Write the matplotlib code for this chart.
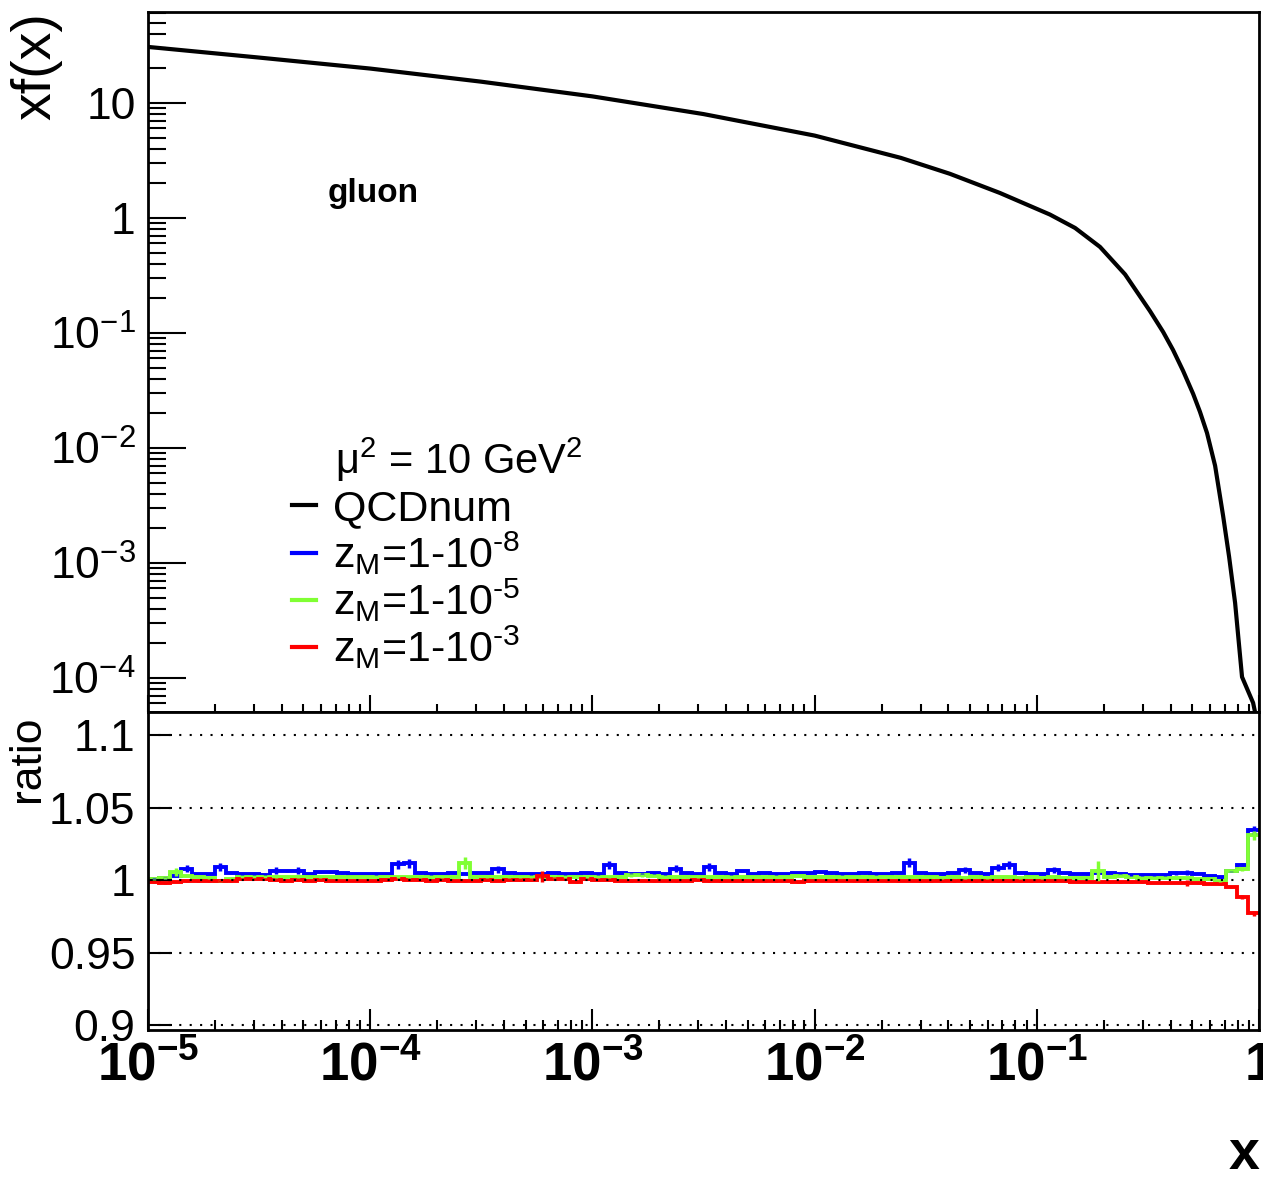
import numpy as np
import matplotlib
matplotlib.use("Agg")
import matplotlib.pyplot as plt
from matplotlib.ticker import LogLocator, FixedLocator, FuncFormatter, NullFormatter

plt.rcParams['font.family'] = ['Liberation Sans', 'DejaVu Sans']
plt.rcParams['mathtext.fontset'] = 'custom'
plt.rcParams['mathtext.rm'] = 'Liberation Sans'
plt.rcParams['mathtext.it'] = 'Liberation Sans:italic'
plt.rcParams['mathtext.bf'] = 'Liberation Sans:bold'

# gluon xf(x) at mu^2 = 10 GeV^2
x_pdf = [1e-5, 3.16e-5, 1e-4, 3.16e-4, 1e-3, 3.16e-3, 1e-2, 0.0244, 0.0406, 0.0682,
         0.1145, 0.1486, 0.1923, 0.2494, 0.3228, 0.370, 0.410, 0.455, 0.505, 0.542,
         0.583, 0.634, 0.689, 0.733, 0.780, 0.838, 0.940, 0.960]
xf_pdf = [30.7, 24.8, 19.9, 15.3, 11.4, 8.0, 5.2, 3.33, 2.42, 1.648,
          1.07, 0.818, 0.560, 0.323, 0.155, 0.102, 0.0711, 0.0468, 0.0295, 0.0206,
          0.01349, 0.0070, 0.00256, 0.00113, 4.49e-4, 1.02e-4, 6.07e-5, 5.0e-5]

# ratio histograms, 100 log bins between 1e-5 and 1
bin_edges = np.logspace(-5, 0, 101)

ratio_m8 = [1.0010, 1.0015, 1.0030, 1.0080, 1.0045, 1.0045, 1.0090, 1.0050, 1.0042, 1.0040,
            1.0038, 1.0065, 1.0060, 1.0065, 1.0045, 1.0055, 1.0055, 1.0050, 1.0045, 1.0044,
            1.0042, 1.0044, 1.0110, 1.0115, 1.0050, 1.0042, 1.0044, 1.0046, 1.0044, 1.0048,
            1.0050, 1.0075, 1.0046, 1.0044, 1.0042, 1.0044, 1.0046, 1.0040, 1.0044, 1.0046,
            1.0042, 1.0105, 1.0050, 1.0044, 1.0042, 1.0046, 1.0042, 1.0080, 1.0046, 1.0044,
            1.0090, 1.0050, 1.0042, 1.0060, 1.0044, 1.0050, 1.0042, 1.0044, 1.0052, 1.0050,
            1.0055, 1.0050, 1.0042, 1.0044, 1.0046, 1.0042, 1.0044, 1.0046, 1.0120, 1.0050,
            1.0044, 1.0042, 1.0046, 1.0067, 1.0046, 1.0044, 1.0085, 1.0105, 1.0046, 1.0044,
            1.0044, 1.0067, 1.0050, 1.0044, 1.0042, 1.0046, 1.0048, 1.0042, 1.0036, 1.0034,
            1.0034, 1.0036, 1.0048, 1.0052, 1.0044, 1.0030, 1.0022, 1.0060, 1.0105, 1.0345]
err_m8 = [0.0005, 0.0005, 0.0005, 0.0025, 0.0005, 0.0005, 0.0025, 0.0005, 0.0005, 0.0005,
          0.0005, 0.0025, 0.0005, 0.0025, 0.0005, 0.0005, 0.0005, 0.0005, 0.0005, 0.0005,
          0.0005, 0.0005, 0.0030, 0.0030, 0.0005, 0.0005, 0.0005, 0.0005, 0.0005, 0.0005,
          0.0005, 0.0025, 0.0005, 0.0005, 0.0005, 0.0005, 0.0005, 0.0005, 0.0005, 0.0005,
          0.0005, 0.0030, 0.0005, 0.0005, 0.0005, 0.0005, 0.0005, 0.0025, 0.0005, 0.0005,
          0.0025, 0.0005, 0.0005, 0.0005, 0.0005, 0.0005, 0.0005, 0.0005, 0.0005, 0.0005,
          0.0005, 0.0005, 0.0005, 0.0005, 0.0005, 0.0005, 0.0005, 0.0005, 0.0030, 0.0005,
          0.0005, 0.0005, 0.0005, 0.0020, 0.0005, 0.0005, 0.0025, 0.0025, 0.0005, 0.0005,
          0.0005, 0.0020, 0.0005, 0.0005, 0.0005, 0.0005, 0.0005, 0.0005, 0.0005, 0.0005,
          0.0005, 0.0005, 0.0015, 0.0015, 0.0005, 0.0005, 0.0005, 0.0005, 0.0010, 0.0025]

ratio_m5 = [1.0005, 1.0015, 1.0055, 1.0030, 1.0020, 1.0015, 0.9995, 1.0010, 1.0020, 1.0022,
            1.0022, 1.0020, 1.0022, 1.0020, 1.0022, 1.0020, 1.0022, 1.0024, 1.0022, 1.0020,
            1.0022, 1.0024, 1.0022, 1.0020, 1.0022, 1.0020, 1.0022, 1.0024, 1.0120, 1.0022,
            1.0020, 1.0024, 1.0022, 1.0020, 1.0022, 1.0020, 1.0018, 1.0020, 1.0022, 1.0020,
            1.0022, 1.0020, 1.0024, 1.0032, 1.0034, 1.0030, 1.0024, 1.0022, 1.0020, 1.0022,
            1.0020, 1.0022, 1.0020, 1.0022, 1.0024, 1.0022, 1.0020, 1.0022, 1.0030, 1.0024,
            1.0022, 1.0020, 1.0022, 1.0020, 1.0022, 1.0020, 1.0018, 1.0020, 1.0022, 1.0020,
            1.0018, 1.0016, 1.0018, 1.0016, 1.0018, 1.0016, 1.0018, 1.0020, 1.0016, 1.0018,
            1.0016, 1.0018, 1.0016, 1.0014, 1.0016, 1.0065, 1.0024, 1.0030, 1.0018, 1.0016,
            1.0014, 1.0012, 1.0014, 1.0012, 1.0010, 1.0008, 0.9995, 1.0060, 1.0075, 1.0310]
err_m5 = [0.0005, 0.0005, 0.0030, 0.0005, 0.0005, 0.0005, 0.0005, 0.0005, 0.0005, 0.0005,
          0.0005, 0.0005, 0.0005, 0.0005, 0.0005, 0.0005, 0.0005, 0.0005, 0.0005, 0.0005,
          0.0005, 0.0005, 0.0005, 0.0005, 0.0005, 0.0005, 0.0005, 0.0005, 0.0040, 0.0005,
          0.0005, 0.0005, 0.0005, 0.0005, 0.0005, 0.0005, 0.0005, 0.0005, 0.0005, 0.0005,
          0.0005, 0.0005, 0.0005, 0.0010, 0.0010, 0.0005, 0.0005, 0.0005, 0.0005, 0.0005,
          0.0005, 0.0005, 0.0005, 0.0005, 0.0005, 0.0005, 0.0005, 0.0005, 0.0005, 0.0005,
          0.0005, 0.0005, 0.0005, 0.0005, 0.0005, 0.0005, 0.0005, 0.0005, 0.0005, 0.0005,
          0.0005, 0.0005, 0.0005, 0.0005, 0.0005, 0.0005, 0.0005, 0.0005, 0.0005, 0.0005,
          0.0005, 0.0005, 0.0005, 0.0005, 0.0005, 0.0070, 0.0005, 0.0010, 0.0005, 0.0005,
          0.0005, 0.0005, 0.0005, 0.0005, 0.0005, 0.0005, 0.0005, 0.0005, 0.0010, 0.0030]

ratio_m3 = [0.9985, 0.9980, 0.9990, 0.9993, 0.9995, 0.9993, 0.9995, 0.9993, 1.0008, 1.0010,
            1.0008, 0.9998, 0.9996, 0.9998, 0.9996, 0.9998, 0.9996, 0.9995, 0.9997, 0.9995,
            0.9996, 0.9998, 1.0005, 1.0002, 0.9998, 0.9996, 0.9998, 0.9996, 0.9994, 0.9996,
            0.9998, 0.9996, 0.9998, 1.0000, 1.0002, 1.0025, 1.0010, 1.0005, 0.9988, 1.0005,
            1.0002, 0.9998, 0.9996, 0.9995, 0.9997, 0.9995, 0.9997, 0.9995, 0.9996, 0.9998,
            0.9995, 0.9993, 0.9996, 0.9995, 0.9997, 0.9995, 0.9994, 0.9996, 0.9988, 0.9995,
            0.9997, 0.9995, 0.9996, 0.9995, 0.9994, 0.9996, 0.9995, 0.9994, 0.9996, 0.9995,
            0.9994, 0.9995, 0.9994, 0.9993, 0.9994, 0.9995, 0.9994, 0.9995, 0.9993, 0.9992,
            0.9993, 0.9992, 0.9991, 0.9990, 0.9989, 0.9988, 0.9987, 0.9985, 0.9986, 0.9984,
            0.9983, 0.9982, 0.9982, 0.9979, 0.9977, 0.9975, 0.9972, 0.9950, 0.9885, 0.9770]
err_m3 = [0.0005, 0.0005, 0.0005, 0.0005, 0.0005, 0.0005, 0.0005, 0.0005, 0.0005, 0.0005,
          0.0005, 0.0005, 0.0005, 0.0005, 0.0005, 0.0005, 0.0005, 0.0005, 0.0005, 0.0005,
          0.0005, 0.0005, 0.0005, 0.0005, 0.0005, 0.0005, 0.0005, 0.0005, 0.0005, 0.0005,
          0.0005, 0.0005, 0.0005, 0.0005, 0.0005, 0.0040, 0.0005, 0.0005, 0.0005, 0.0005,
          0.0005, 0.0005, 0.0005, 0.0005, 0.0005, 0.0005, 0.0005, 0.0005, 0.0005, 0.0005,
          0.0005, 0.0005, 0.0005, 0.0005, 0.0005, 0.0005, 0.0005, 0.0005, 0.0005, 0.0005,
          0.0005, 0.0005, 0.0005, 0.0005, 0.0005, 0.0005, 0.0005, 0.0005, 0.0005, 0.0005,
          0.0005, 0.0005, 0.0005, 0.0005, 0.0005, 0.0005, 0.0005, 0.0005, 0.0005, 0.0005,
          0.0005, 0.0005, 0.0005, 0.0005, 0.0005, 0.0005, 0.0005, 0.0005, 0.0005, 0.0005,
          0.0005, 0.0005, 0.0005, 0.0020, 0.0005, 0.0005, 0.0005, 0.0005, 0.0015, 0.0020]

labels = ['QCDnum',
          r'z$_{\rm M}$=1-10$^{\text{-8}}$',
          r'z$_{\rm M}$=1-10$^{\text{-5}}$',
          r'z$_{\rm M}$=1-10$^{\text{-3}}$']
colors = ['black', '#0000ff', '#80ff33', '#ff0000']

fig = plt.figure(figsize=(12.63, 11.85), dpi=100)
ax1 = fig.add_axes([0.1172, 0.3992, 0.8797, 0.5907])
ax2 = fig.add_axes([0.1172, 0.1308, 0.8797, 0.2684], sharex=ax1)

# --- top panel
ax1.plot(x_pdf, xf_pdf, color='black', lw=3)
ax1.set_xscale('log')
ax1.set_yscale('log')
ax1.set_xlim(1e-5, 1)
ax1.set_ylim(5.06e-5, 61.8)


def top_fmt(v, pos):
    e = int(round(np.log10(v)))
    if e == 0:
        return '1'
    if e == 1:
        return '10'
    return r'$10^{%d}$' % e


ax1.yaxis.set_major_locator(FixedLocator([1e-4, 1e-3, 1e-2, 1e-1, 1, 10]))
ax1.yaxis.set_major_formatter(FuncFormatter(top_fmt))
ax1.yaxis.set_minor_locator(LogLocator(base=10, subs=np.arange(2, 10), numticks=20))
ax1.yaxis.set_minor_formatter(NullFormatter())
ax1.tick_params(axis='y', which='major', direction='in', length=27, width=1.5,
                labelsize=32, pad=9, right=False)
ax1.tick_params(axis='y', which='minor', direction='in', length=13, width=1.5, right=False)
ax1.tick_params(axis='x', which='major', direction='in', length=12, width=1.5,
                labelbottom=False, top=False)
ax1.tick_params(axis='x', which='minor', direction='in', length=6, width=1.5, top=False)
for s in ax1.spines.values():
    s.set_linewidth(2)

ax1.set_ylabel('xf(x)', loc='top', fontsize=40)
ax1.yaxis.set_label_coords(-0.077, 1.0)

ax1.text(0.2025, 0.741, 'gluon', transform=ax1.transAxes, fontsize=24,
         fontweight='bold', ha='center', va='center')
ax1.text(0.168, 0.36, 'μ$^{2}$ = 10 GeV$^{2}$', transform=ax1.transAxes,
         fontsize=30, ha='left', va='center')

# --- ratio panel
centers = np.sqrt(bin_edges[:-1] * bin_edges[1:])
handles = [ax1.plot([], [], color='black', lw=3)[0]]
for vals, errs, c in [(ratio_m8, err_m8, colors[1]),
                      (ratio_m5, err_m5, colors[2]),
                      (ratio_m3, err_m3, colors[3])]:
    ax2.stairs(vals, bin_edges, color=c, lw=2.8, baseline=None)
    ax2.errorbar(centers, vals, yerr=errs, fmt='none', ecolor=c, elinewidth=2.5)
    handles.append(plt.Line2D([], [], color=c, lw=3))

leg = ax1.legend(handles, labels, loc='upper left', bbox_to_anchor=(0.1296, 0.318),
                 frameon=False, fontsize=31, handlelength=0.55, handletextpad=0.4,
                 borderpad=0, borderaxespad=0, labelspacing=0.0)

ax2.set_ylim(0.8966, 1.116)
for yv in [0.9, 0.95, 1.0, 1.05, 1.1]:
    ax2.axhline(yv, color='black', ls=(0, (1, 4)), lw=1.5)
ax2.yaxis.set_major_locator(FixedLocator([0.9, 0.95, 1.0, 1.05, 1.1]))
ax2.yaxis.set_major_formatter(FuncFormatter(lambda v, p: ('%g' % v)))
ax2.tick_params(axis='y', which='major', direction='in', length=17, width=1.5,
                labelsize=32, pad=9, right=False)
ax2.tick_params(axis='y', which='minor', left=False, right=False)


def bot_fmt(v, pos):
    e = int(round(np.log10(v)))
    if e == 0:
        return r'$\mathbf{1}$'
    return r'$\mathbf{10^{%d}}$' % e


ax2.xaxis.set_major_locator(LogLocator(base=10, numticks=10))
ax2.xaxis.set_major_formatter(FuncFormatter(bot_fmt))
ax2.xaxis.set_minor_locator(LogLocator(base=10, subs=np.arange(2, 10), numticks=20))
ax2.xaxis.set_minor_formatter(NullFormatter())
ax2.tick_params(axis='x', which='major', direction='in', length=15, width=1.5,
                labelsize=38, pad=8, top=False)
ax2.tick_params(axis='x', which='minor', direction='in', length=7, width=1.5, top=False)
for s in ax2.spines.values():
    s.set_linewidth(2)

ax2.set_ylabel('ratio', loc='top', fontsize=32)
ax2.yaxis.set_label_coords(-0.09, 0.99)
ax2.set_xlabel('x', loc='right', fontsize=40, fontweight='bold')
ax2.xaxis.set_label_coords(1.0, -0.31)

fig.savefig('out.png', dpi=100)
